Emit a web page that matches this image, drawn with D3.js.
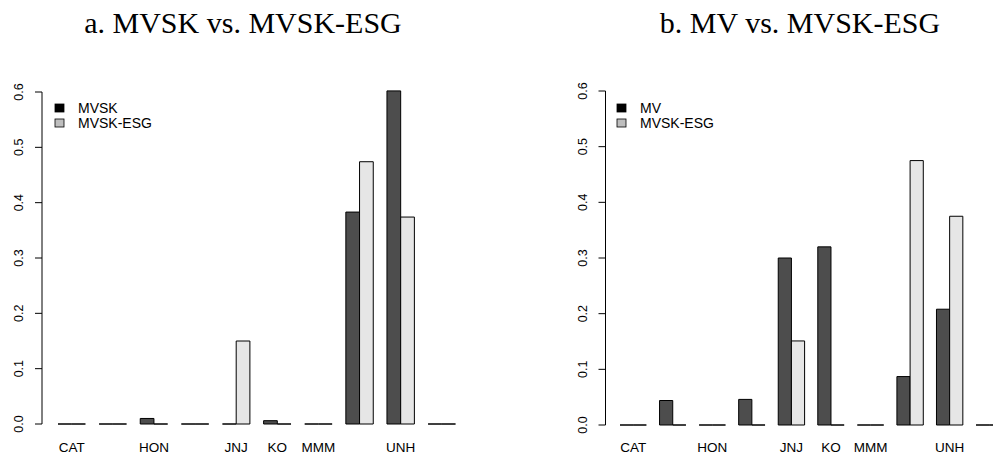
<html>
<head>
<title>MVSK vs MVSK-ESG weights</title>
</head>
<body style='margin: 0;padding: 0;background: white'>
<div id="chart"></div>
<script src="https://cdn.jsdelivr.net/npm/d3@7"></script>
<script>

// tick labels as printed (R drops the ones that would overlap)
var stocks = ['CAT', '', 'HON', '', 'JNJ', 'KO', 'MMM', '', 'UNH', '']
var yTicks = [0, 0.1, 0.2, 0.3, 0.4, 0.5, 0.6]

// panel a
var mvsk     = [0, 0, 0.010, 0, 0, 0.006, 0, 0.383, 0.602, 0]
var mvskEsgA = [0, 0, 0, 0, 0.150, 0, 0, 0.474, 0.374, 0]
// panel b
var mv       = [0, 0.044, 0, 0.046, 0.300, 0.320, 0, 0.087, 0.208, 0]
var mvskEsgB = [0, 0, 0, 0, 0.151, 0, 0, 0.475, 0.375, 0]

var panels = [
  {title: 'a. MVSK vs. MVSK-ESG', names: ['MVSK', 'MVSK-ESG'], series: [mvsk, mvskEsgA],
   titleX: 243, axisX: 42, barL: 58, barR: 455.5, y0: 424, y1: 92, legX: 55},
  {title: 'b. MV vs. MVSK-ESG', names: ['MV', 'MVSK-ESG'], series: [mv, mvskEsgB],
   titleX: 800, axisX: 605.5, barL: 620, barR: 1002.4, y0: 425, y1: 91, legX: 617}
]

var barCols = ['#4d4d4d', '#e6e6e6']
var legCols = ['#000000', '#bebebe']
var sans = 'Liberation Sans, Arial, sans-serif'

var svg = d3.select('#chart').append('svg')
  .attr('width', 993).attr('height', 455)
  .style('background-color', 'white')

panels.forEach(p => {
  var g = svg.append('g')

  var x = d3.scaleBand().domain(d3.range(stocks.length))
    .range([p.barL, p.barR]).paddingInner(1/3).paddingOuter(0)
  var xs = d3.scaleBand().domain([0, 1]).range([0, x.bandwidth()])
  var y = d3.scaleLinear().domain([0, 0.6]).range([p.y0, p.y1])

  g.append('text')
    .text(p.title)
    .attr('x', p.titleX).attr('y', 33)
    .attr('text-anchor', 'middle')
    .attr('font-family', 'Liberation Serif, Times New Roman, serif')
    .attr('font-size', 30)
    .style('fill', 'black')

  // bars, drawn as paths so zero weights still show as a flat line
  p.series.forEach((vals, s) => {
    g.selectAll('.bar' + s).data(vals).enter()
      .append('path')
      .attr('class', 'bar' + s)
      .attr('d', (d, i) => {
        var bx = x(i) + xs(s), w = xs.bandwidth()
        return 'M' + bx + ',' + y(0) + 'H' + (bx + w) + 'V' + y(d) + 'H' + bx + 'Z'
      })
      .style('fill', barCols[s])
      .style('stroke', 'black')
      .style('stroke-width', '1px')
  })

  // y axis, R style
  var yAxis = d3.axisLeft(y).tickValues(yTicks).tickFormat(d3.format('.1f')).tickSize(7).tickPadding(0)
  var ax = g.append('g').attr('transform', 'translate(' + p.axisX + ',0)').call(yAxis)
  ax.select('.domain').attr('d', 'M0,' + y(0) + 'V' + y(0.6)).style('stroke', 'black')
  ax.selectAll('.tick line').style('stroke', 'black')
  ax.selectAll('.tick text')
    .attr('transform', d => 'translate(-19,' + y(d) + ') rotate(-90)')
    .attr('x', 0).attr('y', 0).attr('dy', 0)
    .attr('text-anchor', 'middle')
    .attr('font-family', sans).attr('font-size', 12.5)
    .style('fill', 'black')
  ax.selectAll('.tick').attr('transform', null)
  ax.selectAll('.tick line').attr('transform', d => 'translate(0,' + y(d) + ')')

  // x labels under each group
  g.selectAll('.xlab').data(stocks).enter()
    .append('text')
    .attr('class', 'xlab')
    .text(d => d)
    .attr('x', (d, i) => x(i) + x.bandwidth() / 2)
    .attr('y', 451.5)
    .attr('text-anchor', 'middle')
    .attr('font-family', sans).attr('font-size', 13.5)
    .style('fill', 'black')

  // legend
  p.names.forEach((n, i) => {
    g.append('rect')
      .attr('x', p.legX).attr('y', 104 + i * 15)
      .attr('width', 9).attr('height', 8)
      .style('fill', legCols[i]).style('stroke', 'black').style('stroke-width', '0.8px')
    g.append('text')
      .text(n)
      .attr('x', p.legX + 23).attr('y', 113 + i * 15)
      .attr('font-family', sans).attr('font-size', 14)
      .style('fill', 'black')
  })
})

</script>
</body>
</html>
